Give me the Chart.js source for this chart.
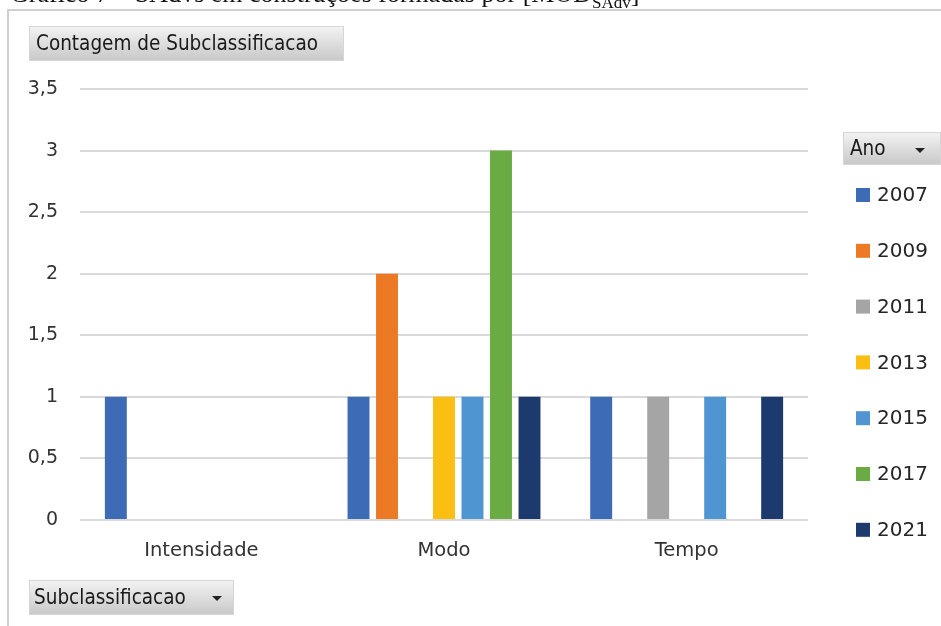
<!DOCTYPE html>
<html>
<head>
<meta charset="utf-8">
<script src="https://cdn.jsdelivr.net/npm/chart.js@4"></script>
<style>
  html, body { margin: 0; padding: 0; background: #fff; }
  #wrap { position: relative; width: 941px; height: 626px; overflow: hidden; }
  #frame {
    position: absolute; left: 7px; top: 9px; width: 940px; height: 630px;
    border-left: 2px solid #d0d0d0; border-top: 2px solid #d0d0d0;
  }
  #caption {
    position: absolute; left: 10px; top: -21px; white-space: nowrap;
    font-family: "Liberation Serif", serif; font-size: 26px; color: #111;
  }
  #caption sub { font-size: 17px; }
  .btn {
    position: absolute; box-sizing: border-box;
    background: linear-gradient(#f2f2f2, #c9c9c9);
    border: 1px solid #d6d6d6;
    font-family: "DejaVu Sans Condensed", "Liberation Sans Narrow", "Liberation Sans", sans-serif;
    font-size: 20.5px; color: #1a1a1a; padding-left: 6px;
  }
  .btn .arr {
    position: absolute; right: 15px; top: 15px; width: 0; height: 0;
    border-left: 5px solid transparent; border-right: 5px solid transparent;
    border-top: 5px solid #222;
  }
  canvas { position: absolute; left: 0; top: 0; }
</style>
</head>
<body>
<div id="wrap">
  <canvas id="chart" width="941" height="626"></canvas>
  <div id="caption">Gráfico 7 – SAdvs em construções formadas por [MOD<sub>SAdv</sub>]</div>
  <div id="frame"></div>
  <div class="btn" style="left:29px; top:26px; width:315px; height:35px; line-height:33px;">Contagem de Subclassificacao</div>
  <div class="btn" style="left:843px; top:132px; width:98px; height:33px; line-height:31px;">Ano<span class="arr"></span></div>
  <div class="btn" style="left:29px; top:580px; width:205px; height:35px; line-height:33px; padding-left:4px;">Subclassificacao<span class="arr" style="right:11px;"></span></div>
</div>
<script>
/* categories on the x axis */
const categories = ['Intensidade', 'Modo', 'Tempo'];

/* one series per year (count of subclassification) */
const years = ['2007', '2009', '2011', '2013', '2015', '2017', '2021'];
const v2007 = [1, 1, 1];
const v2009 = [0, 2, 0];
const v2011 = [0, 0, 1];
const v2013 = [0, 1, 0];
const v2015 = [0, 1, 1];
const v2017 = [0, 3, 0];
const v2021 = [0, 1, 1];

/* y ticks go 0 .. 3,5 in steps of 0,5 */
const yMax = 3.5;
const yStep = 0.5;

const colors = ['#3d6bb5', '#ec7a25', '#a5a5a5', '#fbbf14', '#4f95d2', '#6bab44', '#1c3a6e'];
const series = [v2007, v2009, v2011, v2013, v2015, v2017, v2021];

/* legend drawn on the canvas from the chart's own datasets */
const sideLegend = {
  id: 'sideLegend',
  afterDraw(chart) {
    const ctx = chart.ctx;
    ctx.save();
    ctx.font = '20px "DejaVu Sans", sans-serif';
    ctx.textBaseline = 'middle';
    chart.data.datasets.forEach((ds, i) => {
      const y = 195 + i * 55.8;
      ctx.fillStyle = ds.backgroundColor;
      ctx.fillRect(856, y - 7, 14, 14);
      ctx.fillStyle = '#262626';
      ctx.fillText(ds.label, 877, y + 1);
    });
    ctx.restore();
  }
};

new Chart(document.getElementById('chart'), {
  type: 'bar',
  data: {
    labels: categories,
    datasets: years.map((y, i) => ({
      label: y,
      data: series[i],
      backgroundColor: colors[i],
      categoryPercentage: 0.822,
      barPercentage: 0.77
    }))
  },
  options: {
    responsive: false,
    animation: false,
    layout: { padding: { left: 10, right: 133, top: 89, bottom: 60 } },
    plugins: { legend: { display: false }, tooltip: { enabled: false } },
    scales: {
      x: {
        grid: { display: false },
        border: { display: false },
        ticks: { color: '#333', font: { family: 'DejaVu Sans', size: 19.5 }, padding: 11 },
        afterFit: (scale) => { scale.height = 46; }
      },
      y: {
        min: 0,
        max: yMax,
        ticks: {
          stepSize: yStep,
          color: '#333',
          font: { family: 'DejaVu Sans', size: 19 },
          padding: 22,
          callback: (v) => String(v).replace('.', ',')
        },
        grid: { color: '#d9d9d9', lineWidth: 2, drawTicks: false },
        border: { display: false },
        afterFit: (scale) => { scale.width = 70; }
      }
    }
  },
  plugins: [sideLegend]
});
</script>
</body>
</html>
